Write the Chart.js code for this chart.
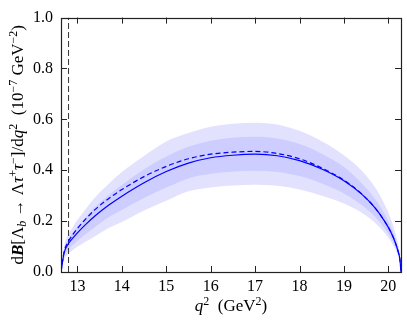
<!DOCTYPE html>
<html>
<head>
<meta charset="utf-8">
<script src="https://cdn.jsdelivr.net/npm/chart.js@4"></script>
<style>
  body { margin: 0; background: #fff; }
  canvas { display: block; }
</style>
</head>
<body>
<canvas id="chart" width="407" height="325"></canvas>
<script>
// q^2 grid (GeV^2) and curves
const q2 =      [12.63, 12.7, 12.8, 12.9, 13.0, 13.2, 13.4, 13.7, 14.0, 14.5, 15.0, 15.5, 16.0, 16.5, 17.0, 17.5, 18.0, 18.5, 19.0, 19.4, 19.7, 19.9, 20.05, 20.15, 20.22, 20.26, 20.285];
const central = [0, 0.075, 0.112, 0.134, 0.154, 0.189, 0.221, 0.262, 0.298, 0.351, 0.395, 0.428, 0.449, 0.459, 0.463, 0.457, 0.438, 0.405, 0.359, 0.306, 0.252, 0.204, 0.159, 0.119, 0.081, 0.050, 0];
const dashed =  [0, 0.079, 0.121, 0.148, 0.171, 0.211, 0.246, 0.288, 0.324, 0.375, 0.415, 0.445, 0.463, 0.471, 0.474, 0.466, 0.445, 0.409, 0.361, 0.307, 0.252, 0.204, 0.159, 0.119, 0.081, 0.050, 0];
const innerHi = [0, 0.087, 0.130, 0.156, 0.178, 0.219, 0.256, 0.301, 0.342, 0.404, 0.454, 0.492, 0.516, 0.528, 0.532, 0.525, 0.503, 0.465, 0.413, 0.349, 0.287, 0.233, 0.181, 0.136, 0.092, 0.057, 0];
const innerLo = [0, 0.060, 0.090, 0.107, 0.123, 0.151, 0.177, 0.215, 0.244, 0.291, 0.332, 0.368, 0.386, 0.395, 0.398, 0.393, 0.377, 0.348, 0.309, 0.263, 0.217, 0.175, 0.137, 0.102, 0.070, 0.043, 0];
const outerHi = [0, 0.100, 0.149, 0.178, 0.205, 0.251, 0.294, 0.346, 0.393, 0.456, 0.513, 0.546, 0.571, 0.583, 0.587, 0.580, 0.555, 0.514, 0.459, 0.398, 0.333, 0.271, 0.211, 0.158, 0.108, 0.067, 0];
const outerLo = [0, 0.048, 0.072, 0.086, 0.099, 0.121, 0.141, 0.173, 0.197, 0.242, 0.280, 0.317, 0.332, 0.340, 0.343, 0.339, 0.324, 0.300, 0.269, 0.233, 0.194, 0.157, 0.122, 0.092, 0.062, 0.039, 0];

const thresholdQ2 = 12.8;
const xTicks = [13, 14, 15, 16, 17, 18, 19, 20];
const yTicks = [0, 0.2, 0.4, 0.6, 0.8, 1.0];

const serif = '"Liberation Serif", "DejaVu Serif", serif';

function pts(arr) {
    return q2.map((x, i) => ({ x: x, y: arr[i] }));
}

// draw a line of text with sub/superscripts
function drawRich(ctx, segs, x, y, rot) {
    const base = 17, small = 12;
    ctx.save();
    ctx.translate(x, y);
    ctx.rotate(rot);
    ctx.fillStyle = '#000';
    ctx.textBaseline = 'alphabetic';
    ctx.textAlign = 'left';
    const fontOf = s => (s.i ? 'italic ' : '') + (s.b ? 'bold ' : '') + ((s.sup || s.sub) ? small : base) + 'px ' + serif;
    let total = 0;
    segs.forEach(s => { ctx.font = fontOf(s); total += ctx.measureText(s.t).width; });
    let cx = -total / 2;
    segs.forEach(s => {
        ctx.font = fontOf(s);
        let dy = 5;
        if (s.sup) dy -= 6.5;
        if (s.sub) dy += 3;
        ctx.fillText(s.t, cx, dy);
        cx += ctx.measureText(s.t).width;
    });
    ctx.restore();
}

const yTitle = [
    { t: 'd' }, { t: 'B', b: true, i: true }, { t: '[\u039B' }, { t: 'b', i: true, sub: true },
    { t: ' \u2192 \u039B' }, { t: '\u03C4', i: true }, { t: '+', sup: true },
    { t: '\u03C4', i: true }, { t: '\u2212', sup: true }, { t: ']/d' }, { t: 'q', i: true },
    { t: '2', sup: true }, { t: '  (10' }, { t: '\u22127', sup: true }, { t: ' GeV' },
    { t: '\u22122', sup: true }, { t: ')' }
];
const xTitle = [
    { t: 'q', i: true }, { t: '2', sup: true }, { t: '  (GeV' }, { t: '2', sup: true }, { t: ')' }
];

// frame, inward ticks on all sides, axis titles
const framePlugin = {
    id: 'frame',
    afterDraw(chart) {
        const ctx = chart.ctx;
        const a = chart.chartArea;
        const xs = chart.scales.x, ys = chart.scales.y;
        const len = 6;
        ctx.save();
        ctx.strokeStyle = '#222';
        ctx.lineWidth = 1;
        ctx.beginPath();
        xTicks.forEach(v => {
            const px = Math.round(xs.getPixelForValue(v)) + 0.5;
            ctx.moveTo(px, a.bottom); ctx.lineTo(px, a.bottom - len);
            ctx.moveTo(px, a.top); ctx.lineTo(px, a.top + len);
        });
        yTicks.forEach(v => {
            const py = Math.round(ys.getPixelForValue(v)) + 0.5;
            ctx.moveTo(a.left, py); ctx.lineTo(a.left + len, py);
            ctx.moveTo(a.right, py); ctx.lineTo(a.right - len, py);
        });
        ctx.stroke();
        ctx.lineWidth = 1.2;
        ctx.strokeRect(Math.round(a.left) + 0.5, Math.round(a.top) + 0.5,
            Math.round(a.right - a.left), Math.round(a.bottom - a.top));
        ctx.restore();

        drawRich(ctx, yTitle, 18, (a.top + a.bottom) / 2, -Math.PI / 2);
        drawRich(ctx, xTitle, (a.left + a.right) / 2, 306, 0);
    }
};

const line = (data, color, extra) => Object.assign({
    data: data,
    showLine: true,
    borderColor: color,
    borderWidth: 1.2,
    pointRadius: 0,
    cubicInterpolationMode: 'monotone',
    fill: false
}, extra);

new Chart(document.getElementById('chart'), {
    type: 'scatter',
    data: {
        datasets: [
            line(pts(central), '#0000ff', { order: 0 }),
            line(pts(dashed), '#0000ff', { order: 1, borderDash: [5, 3] }),
            line([{ x: thresholdQ2, y: 0 }, { x: thresholdQ2, y: 1 }], '#333333',
                { order: 2, borderDash: [6, 3], borderWidth: 1, cubicInterpolationMode: 'default' }),
            line(pts(innerHi), 'rgba(0,0,0,0)', { order: 3, borderWidth: 0, fill: 4, backgroundColor: 'rgb(205,205,255)' }),
            line(pts(innerLo), 'rgba(0,0,0,0)', { order: 4, borderWidth: 0 }),
            line(pts(outerHi), 'rgba(0,0,0,0)', { order: 5, borderWidth: 0, fill: 6, backgroundColor: 'rgb(226,226,255)' }),
            line(pts(outerLo), 'rgba(0,0,0,0)', { order: 6, borderWidth: 0 })
        ]
    },
    options: {
        responsive: false,
        animation: false,
        devicePixelRatio: 1,
        layout: { padding: { top: 12, right: 6, left: 0, bottom: 0 } },
        plugins: { legend: { display: false }, tooltip: { enabled: false } },
        scales: {
            x: {
                type: 'linear',
                min: 12.63,
                max: 20.285,
                afterBuildTicks: s => { s.ticks = xTicks.map(v => ({ value: v })); },
                afterFit: s => { s.height = 53; },
                grid: { display: false, drawTicks: false },
                border: { display: false },
                ticks: { padding: 5, color: '#000', font: { family: serif, size: 16 }, maxRotation: 0 }
            },
            y: {
                min: 0,
                max: 1,
                afterBuildTicks: s => { s.ticks = yTicks.map(v => ({ value: v })); },
                afterFit: s => { s.width = 61; },
                grid: { display: false, drawTicks: false },
                border: { display: false },
                ticks: { padding: 8, color: '#000', font: { family: serif, size: 16 },
                    callback: v => v.toFixed(1) }
            }
        }
    },
    plugins: [framePlugin]
});
</script>
</body>
</html>
